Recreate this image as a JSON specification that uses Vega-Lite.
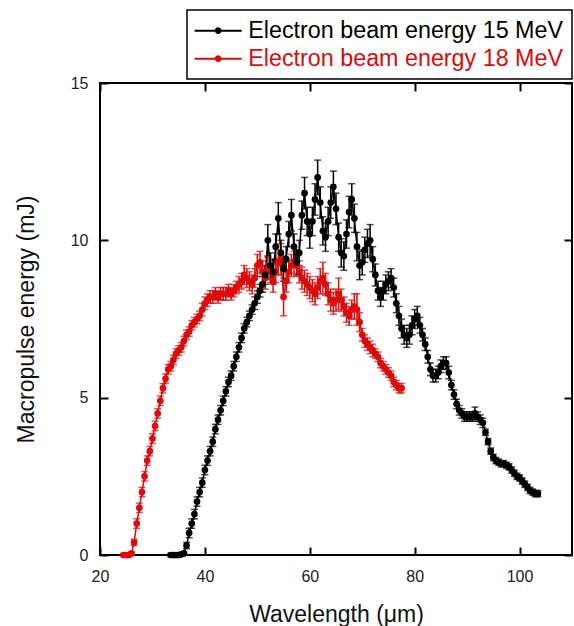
{
  "$schema": "https://vega.github.io/schema/vega-lite/v6.json",
  "width": 472,
  "height": 472,
  "autosize": "none",
  "padding": {"left": 100, "top": 83, "right": 2, "bottom": 71},
  "background": "white",
  "config": {
    "view": {"stroke": "black", "strokeWidth": 2},
    "font": "Liberation Sans"
  },
  "data": {
    "values": [
      {"s": "18", "x": 24.5, "y": 0, "e": 0.05},
      {"s": "18", "x": 25, "y": 0, "e": 0.05},
      {"s": "18", "x": 25.5, "y": 0, "e": 0.05},
      {"s": "18", "x": 26, "y": 0.05, "e": 0.05},
      {"s": "18", "x": 26.5, "y": 0.4, "e": 0.1},
      {"s": "18", "x": 27, "y": 1.0, "e": 0.15},
      {"s": "18", "x": 27.5, "y": 1.5, "e": 0.15},
      {"s": "18", "x": 28, "y": 2.0, "e": 0.15},
      {"s": "18", "x": 28.5, "y": 2.5, "e": 0.15},
      {"s": "18", "x": 29, "y": 3.0, "e": 0.15},
      {"s": "18", "x": 29.5, "y": 3.3, "e": 0.15},
      {"s": "18", "x": 30, "y": 3.7, "e": 0.15},
      {"s": "18", "x": 30.5, "y": 4.1, "e": 0.15},
      {"s": "18", "x": 31, "y": 4.5, "e": 0.15},
      {"s": "18", "x": 31.5, "y": 4.9, "e": 0.15},
      {"s": "18", "x": 32, "y": 5.3, "e": 0.15},
      {"s": "18", "x": 32.5, "y": 5.6, "e": 0.15},
      {"s": "18", "x": 33, "y": 5.9, "e": 0.15},
      {"s": "18", "x": 33.5, "y": 6.0, "e": 0.15},
      {"s": "18", "x": 34, "y": 6.2, "e": 0.15},
      {"s": "18", "x": 34.5, "y": 6.4, "e": 0.15},
      {"s": "18", "x": 35, "y": 6.5, "e": 0.15},
      {"s": "18", "x": 35.5, "y": 6.6, "e": 0.15},
      {"s": "18", "x": 36, "y": 6.8, "e": 0.15},
      {"s": "18", "x": 36.5, "y": 7.0, "e": 0.15},
      {"s": "18", "x": 37, "y": 7.1, "e": 0.15},
      {"s": "18", "x": 37.5, "y": 7.3, "e": 0.15},
      {"s": "18", "x": 38, "y": 7.4, "e": 0.15},
      {"s": "18", "x": 38.5, "y": 7.5, "e": 0.15},
      {"s": "18", "x": 39, "y": 7.6, "e": 0.15},
      {"s": "18", "x": 39.5, "y": 7.8, "e": 0.2},
      {"s": "18", "x": 40, "y": 8.0, "e": 0.2},
      {"s": "18", "x": 40.5, "y": 8.1, "e": 0.2},
      {"s": "18", "x": 41, "y": 8.2, "e": 0.2},
      {"s": "18", "x": 41.5, "y": 8.2, "e": 0.2},
      {"s": "18", "x": 42, "y": 8.3, "e": 0.2},
      {"s": "18", "x": 42.5, "y": 8.2, "e": 0.2},
      {"s": "18", "x": 43, "y": 8.3, "e": 0.2},
      {"s": "18", "x": 43.5, "y": 8.3, "e": 0.2},
      {"s": "18", "x": 44, "y": 8.3, "e": 0.2},
      {"s": "18", "x": 44.5, "y": 8.4, "e": 0.2},
      {"s": "18", "x": 45, "y": 8.3, "e": 0.2},
      {"s": "18", "x": 45.5, "y": 8.4, "e": 0.2},
      {"s": "18", "x": 46, "y": 8.5, "e": 0.2},
      {"s": "18", "x": 46.5, "y": 8.6, "e": 0.25},
      {"s": "18", "x": 47, "y": 8.7, "e": 0.25},
      {"s": "18", "x": 47.5, "y": 8.9, "e": 0.3},
      {"s": "18", "x": 48, "y": 8.8, "e": 0.3},
      {"s": "18", "x": 48.5, "y": 8.7, "e": 0.3},
      {"s": "18", "x": 49, "y": 8.6, "e": 0.3},
      {"s": "18", "x": 49.5, "y": 8.8, "e": 0.3},
      {"s": "18", "x": 50, "y": 9.2, "e": 0.35},
      {"s": "18", "x": 50.5, "y": 9.3, "e": 0.35},
      {"s": "18", "x": 51, "y": 9.0, "e": 0.35},
      {"s": "18", "x": 51.5, "y": 8.8, "e": 0.35},
      {"s": "18", "x": 52, "y": 9.1, "e": 0.35},
      {"s": "18", "x": 52.5, "y": 9.0, "e": 0.35},
      {"s": "18", "x": 53, "y": 8.7, "e": 0.35},
      {"s": "18", "x": 53.5, "y": 9.0, "e": 0.35},
      {"s": "18", "x": 54, "y": 9.3, "e": 0.4},
      {"s": "18", "x": 54.5, "y": 9.4, "e": 0.5},
      {"s": "18", "x": 55, "y": 8.2, "e": 0.6},
      {"s": "18", "x": 55.5, "y": 8.7, "e": 0.35},
      {"s": "18", "x": 56, "y": 9.0, "e": 0.35},
      {"s": "18", "x": 56.5, "y": 9.2, "e": 0.35},
      {"s": "18", "x": 57, "y": 9.3, "e": 0.35},
      {"s": "18", "x": 57.5, "y": 9.2, "e": 0.35},
      {"s": "18", "x": 58, "y": 9.0, "e": 0.35},
      {"s": "18", "x": 58.5, "y": 8.8, "e": 0.35},
      {"s": "18", "x": 59, "y": 8.7, "e": 0.35},
      {"s": "18", "x": 59.5, "y": 8.6, "e": 0.35},
      {"s": "18", "x": 60, "y": 8.5, "e": 0.35},
      {"s": "18", "x": 60.5, "y": 8.4, "e": 0.35},
      {"s": "18", "x": 61, "y": 8.3, "e": 0.35},
      {"s": "18", "x": 61.5, "y": 8.5, "e": 0.35},
      {"s": "18", "x": 62, "y": 8.7, "e": 0.4},
      {"s": "18", "x": 62.5, "y": 8.8, "e": 0.5},
      {"s": "18", "x": 63, "y": 8.6, "e": 0.35},
      {"s": "18", "x": 63.5, "y": 8.3, "e": 0.35},
      {"s": "18", "x": 64, "y": 8.1, "e": 0.35},
      {"s": "18", "x": 64.5, "y": 8.0, "e": 0.35},
      {"s": "18", "x": 65, "y": 8.1, "e": 0.35},
      {"s": "18", "x": 65.5, "y": 8.3, "e": 0.5},
      {"s": "18", "x": 66, "y": 8.1, "e": 0.35},
      {"s": "18", "x": 66.5, "y": 7.9, "e": 0.3},
      {"s": "18", "x": 67, "y": 7.7, "e": 0.3},
      {"s": "18", "x": 67.5, "y": 7.6, "e": 0.3},
      {"s": "18", "x": 68, "y": 7.8, "e": 0.3},
      {"s": "18", "x": 68.5, "y": 7.9, "e": 0.4},
      {"s": "18", "x": 69, "y": 7.8, "e": 0.5},
      {"s": "18", "x": 69.5, "y": 7.4, "e": 0.3},
      {"s": "18", "x": 70, "y": 7.0, "e": 0.2},
      {"s": "18", "x": 70.5, "y": 6.8, "e": 0.2},
      {"s": "18", "x": 71, "y": 6.7, "e": 0.2},
      {"s": "18", "x": 71.5, "y": 6.6, "e": 0.2},
      {"s": "18", "x": 72, "y": 6.5, "e": 0.2},
      {"s": "18", "x": 72.5, "y": 6.4, "e": 0.15},
      {"s": "18", "x": 73, "y": 6.3, "e": 0.15},
      {"s": "18", "x": 73.5, "y": 6.1, "e": 0.15},
      {"s": "18", "x": 74, "y": 6.0, "e": 0.15},
      {"s": "18", "x": 74.5, "y": 5.9, "e": 0.15},
      {"s": "18", "x": 75, "y": 5.8, "e": 0.15},
      {"s": "18", "x": 75.5, "y": 5.7, "e": 0.15},
      {"s": "18", "x": 76, "y": 5.5, "e": 0.15},
      {"s": "18", "x": 76.5, "y": 5.4, "e": 0.15},
      {"s": "18", "x": 77, "y": 5.3, "e": 0.15},
      {"s": "18", "x": 77.5, "y": 5.3, "e": 0.15},
      {"s": "15", "x": 33.5, "y": 0, "e": 0.05},
      {"s": "15", "x": 34, "y": 0, "e": 0.05},
      {"s": "15", "x": 34.5, "y": 0, "e": 0.05},
      {"s": "15", "x": 35, "y": 0, "e": 0.05},
      {"s": "15", "x": 35.5, "y": 0.02, "e": 0.05},
      {"s": "15", "x": 36, "y": 0.05, "e": 0.05},
      {"s": "15", "x": 36.5, "y": 0.3, "e": 0.1},
      {"s": "15", "x": 37, "y": 0.7, "e": 0.15},
      {"s": "15", "x": 37.5, "y": 1.0, "e": 0.15},
      {"s": "15", "x": 38, "y": 1.3, "e": 0.15},
      {"s": "15", "x": 38.5, "y": 1.7, "e": 0.15},
      {"s": "15", "x": 39, "y": 2.0, "e": 0.15},
      {"s": "15", "x": 39.5, "y": 2.3, "e": 0.15},
      {"s": "15", "x": 40, "y": 2.7, "e": 0.15},
      {"s": "15", "x": 40.5, "y": 3.0, "e": 0.15},
      {"s": "15", "x": 41, "y": 3.3, "e": 0.15},
      {"s": "15", "x": 41.5, "y": 3.6, "e": 0.15},
      {"s": "15", "x": 42, "y": 4.0, "e": 0.15},
      {"s": "15", "x": 42.5, "y": 4.3, "e": 0.15},
      {"s": "15", "x": 43, "y": 4.6, "e": 0.15},
      {"s": "15", "x": 43.5, "y": 4.9, "e": 0.15},
      {"s": "15", "x": 44, "y": 5.2, "e": 0.15},
      {"s": "15", "x": 44.5, "y": 5.5, "e": 0.15},
      {"s": "15", "x": 45, "y": 5.7, "e": 0.15},
      {"s": "15", "x": 45.5, "y": 6.0, "e": 0.15},
      {"s": "15", "x": 46, "y": 6.3, "e": 0.15},
      {"s": "15", "x": 46.5, "y": 6.6, "e": 0.15},
      {"s": "15", "x": 47, "y": 6.9, "e": 0.15},
      {"s": "15", "x": 47.5, "y": 7.2, "e": 0.15},
      {"s": "15", "x": 48, "y": 7.4, "e": 0.15},
      {"s": "15", "x": 48.5, "y": 7.6, "e": 0.15},
      {"s": "15", "x": 49, "y": 7.8, "e": 0.15},
      {"s": "15", "x": 49.5, "y": 8.0, "e": 0.2},
      {"s": "15", "x": 50, "y": 8.2, "e": 0.2},
      {"s": "15", "x": 50.5, "y": 8.4, "e": 0.2},
      {"s": "15", "x": 51, "y": 8.6, "e": 0.25},
      {"s": "15", "x": 51.5, "y": 8.9, "e": 0.3},
      {"s": "15", "x": 52, "y": 10.0, "e": 0.5},
      {"s": "15", "x": 52.5, "y": 9.2, "e": 0.4},
      {"s": "15", "x": 53, "y": 9.0, "e": 0.4},
      {"s": "15", "x": 53.5, "y": 9.8, "e": 0.4},
      {"s": "15", "x": 54, "y": 10.7, "e": 0.5},
      {"s": "15", "x": 54.5, "y": 9.6, "e": 0.4},
      {"s": "15", "x": 55, "y": 9.1, "e": 0.4},
      {"s": "15", "x": 55.5, "y": 9.4, "e": 0.4},
      {"s": "15", "x": 56, "y": 10.2, "e": 0.4},
      {"s": "15", "x": 56.5, "y": 10.8, "e": 0.5},
      {"s": "15", "x": 57, "y": 9.8, "e": 0.4},
      {"s": "15", "x": 57.5, "y": 9.3, "e": 0.4},
      {"s": "15", "x": 58, "y": 9.6, "e": 0.4},
      {"s": "15", "x": 58.5, "y": 10.8, "e": 0.45},
      {"s": "15", "x": 59, "y": 11.5, "e": 0.5},
      {"s": "15", "x": 59.5, "y": 10.6, "e": 0.45},
      {"s": "15", "x": 60, "y": 10.2, "e": 0.45},
      {"s": "15", "x": 60.5, "y": 10.6, "e": 0.45},
      {"s": "15", "x": 61, "y": 11.3, "e": 0.5},
      {"s": "15", "x": 61.5, "y": 12.0, "e": 0.55},
      {"s": "15", "x": 62, "y": 11.2, "e": 0.5},
      {"s": "15", "x": 62.5, "y": 10.3, "e": 0.45},
      {"s": "15", "x": 63, "y": 10.1, "e": 0.45},
      {"s": "15", "x": 63.5, "y": 10.6, "e": 0.45},
      {"s": "15", "x": 64, "y": 11.2, "e": 0.5},
      {"s": "15", "x": 64.5, "y": 11.7, "e": 0.5},
      {"s": "15", "x": 65, "y": 11.0, "e": 0.5},
      {"s": "15", "x": 65.5, "y": 10.1, "e": 0.45},
      {"s": "15", "x": 66, "y": 9.6, "e": 0.45},
      {"s": "15", "x": 66.5, "y": 9.5, "e": 0.45},
      {"s": "15", "x": 67, "y": 10.2, "e": 0.45},
      {"s": "15", "x": 67.5, "y": 10.9, "e": 0.5},
      {"s": "15", "x": 68, "y": 11.3, "e": 0.5},
      {"s": "15", "x": 68.5, "y": 10.7, "e": 0.45},
      {"s": "15", "x": 69, "y": 9.8, "e": 0.45},
      {"s": "15", "x": 69.5, "y": 9.2, "e": 0.45},
      {"s": "15", "x": 70, "y": 9.3, "e": 0.4},
      {"s": "15", "x": 70.5, "y": 9.7, "e": 0.4},
      {"s": "15", "x": 71, "y": 9.9, "e": 0.45},
      {"s": "15", "x": 71.5, "y": 10.0, "e": 0.5},
      {"s": "15", "x": 72, "y": 9.4, "e": 0.4},
      {"s": "15", "x": 72.5, "y": 8.9, "e": 0.35},
      {"s": "15", "x": 73, "y": 8.4, "e": 0.3},
      {"s": "15", "x": 73.5, "y": 8.2, "e": 0.3},
      {"s": "15", "x": 74, "y": 8.4, "e": 0.3},
      {"s": "15", "x": 74.5, "y": 8.6, "e": 0.3},
      {"s": "15", "x": 75, "y": 8.7, "e": 0.3},
      {"s": "15", "x": 75.5, "y": 8.8, "e": 0.3},
      {"s": "15", "x": 76, "y": 8.5, "e": 0.3},
      {"s": "15", "x": 76.5, "y": 8.0, "e": 0.3},
      {"s": "15", "x": 77, "y": 7.6, "e": 0.3},
      {"s": "15", "x": 77.5, "y": 7.2, "e": 0.3},
      {"s": "15", "x": 78, "y": 7.0, "e": 0.3},
      {"s": "15", "x": 78.5, "y": 6.9, "e": 0.3},
      {"s": "15", "x": 79, "y": 7.0, "e": 0.3},
      {"s": "15", "x": 79.5, "y": 7.3, "e": 0.3},
      {"s": "15", "x": 80, "y": 7.5, "e": 0.3},
      {"s": "15", "x": 80.5, "y": 7.6, "e": 0.3},
      {"s": "15", "x": 81, "y": 7.3, "e": 0.25},
      {"s": "15", "x": 81.5, "y": 7.0, "e": 0.2},
      {"s": "15", "x": 82, "y": 6.7, "e": 0.2},
      {"s": "15", "x": 82.5, "y": 6.3, "e": 0.2},
      {"s": "15", "x": 83, "y": 5.9, "e": 0.2},
      {"s": "15", "x": 83.5, "y": 5.7, "e": 0.2},
      {"s": "15", "x": 84, "y": 5.7, "e": 0.2},
      {"s": "15", "x": 84.5, "y": 5.8, "e": 0.2},
      {"s": "15", "x": 85, "y": 6.0, "e": 0.2},
      {"s": "15", "x": 85.5, "y": 6.1, "e": 0.2},
      {"s": "15", "x": 86, "y": 6.1, "e": 0.2},
      {"s": "15", "x": 86.5, "y": 5.8, "e": 0.2},
      {"s": "15", "x": 87, "y": 5.4, "e": 0.15},
      {"s": "15", "x": 87.5, "y": 5.1, "e": 0.15},
      {"s": "15", "x": 88, "y": 4.8, "e": 0.15},
      {"s": "15", "x": 88.5, "y": 4.6, "e": 0.15},
      {"s": "15", "x": 89, "y": 4.5, "e": 0.15},
      {"s": "15", "x": 89.5, "y": 4.4, "e": 0.15},
      {"s": "15", "x": 90, "y": 4.4, "e": 0.15},
      {"s": "15", "x": 90.5, "y": 4.4, "e": 0.15},
      {"s": "15", "x": 91, "y": 4.4, "e": 0.15},
      {"s": "15", "x": 91.5, "y": 4.5, "e": 0.2},
      {"s": "15", "x": 92, "y": 4.4, "e": 0.15},
      {"s": "15", "x": 92.5, "y": 4.3, "e": 0.15},
      {"s": "15", "x": 93, "y": 4.2, "e": 0.15},
      {"s": "15", "x": 93.5, "y": 3.9, "e": 0.1},
      {"s": "15", "x": 94, "y": 3.6, "e": 0.1},
      {"s": "15", "x": 94.5, "y": 3.3, "e": 0.1},
      {"s": "15", "x": 95, "y": 3.1, "e": 0.1},
      {"s": "15", "x": 95.5, "y": 3.0, "e": 0.1},
      {"s": "15", "x": 96, "y": 2.95, "e": 0.1},
      {"s": "15", "x": 96.5, "y": 2.9, "e": 0.1},
      {"s": "15", "x": 97, "y": 2.9, "e": 0.1},
      {"s": "15", "x": 97.5, "y": 2.85, "e": 0.1},
      {"s": "15", "x": 98, "y": 2.8, "e": 0.1},
      {"s": "15", "x": 98.5, "y": 2.7, "e": 0.1},
      {"s": "15", "x": 99, "y": 2.6, "e": 0.1},
      {"s": "15", "x": 99.5, "y": 2.5, "e": 0.1},
      {"s": "15", "x": 100, "y": 2.45, "e": 0.1},
      {"s": "15", "x": 100.5, "y": 2.35, "e": 0.1},
      {"s": "15", "x": 101, "y": 2.25, "e": 0.1},
      {"s": "15", "x": 101.5, "y": 2.15, "e": 0.1},
      {"s": "15", "x": 102, "y": 2.05, "e": 0.1},
      {"s": "15", "x": 102.5, "y": 2.0, "e": 0.1},
      {"s": "15", "x": 103, "y": 1.95, "e": 0.1},
      {"s": "15", "x": 103.5, "y": 1.95, "e": 0.1}
    ]
  },
  "resolve": {"axis": {"x": "independent", "y": "independent"}},
  "layer": [
    {
      "mark": {"type": "errorbar", "ticks": {"size": 7, "thickness": 1.5}, "thickness": 1.5},
      "encoding": {
        "x": {
          "field": "x", "type": "quantitative",
          "scale": {"domain": [20, 110], "nice": false, "zero": false},
          "axis": {"orient": "top", "values": [20, 40, 60, 80, 100], "labels": false, "title": null, "domain": false, "grid": false, "tickSize": 8, "offset": -8, "tickWidth": 2, "tickColor": "black"}
        },
        "y": {
          "field": "y", "type": "quantitative",
          "scale": {"domain": [0, 15], "nice": false},
          "axis": {"orient": "right", "values": [0, 5, 10, 15], "labels": false, "title": null, "domain": false, "grid": false, "tickSize": 8, "offset": -8, "tickWidth": 2, "tickColor": "black"}
        },
        "yError": {"field": "e"},
        "color": {"field": "s", "type": "nominal"}
      }
    },
    {
      "mark": {"type": "line", "strokeWidth": 1.5, "point": {"filled": true, "size": 45, "opacity": 1}},
      "encoding": {
        "x": {
          "field": "x", "type": "quantitative",
          "scale": {"domain": [20, 110], "nice": false, "zero": false},
          "axis": {"orient": "bottom", "values": [20, 40, 60, 80, 100], "domain": false, "grid": false, "tickSize": 8, "offset": -8, "tickWidth": 2, "tickColor": "black",
            "labelFontSize": 16, "labelFont": "Liberation Sans", "labelColor": "#222", "labelPadding": 13, "labelFlush": false,
            "title": "Wavelength (μm)", "titleFontSize": 23, "titleFont": "Liberation Sans", "titleFontWeight": "normal", "titleColor": "#111", "titlePadding": 19}
        },
        "y": {
          "field": "y", "type": "quantitative",
          "scale": {"domain": [0, 15], "nice": false},
          "axis": {"orient": "left", "values": [0, 5, 10, 15], "domain": false, "grid": false, "tickSize": 8, "offset": -8, "tickWidth": 2, "tickColor": "black",
            "labelFontSize": 16, "labelFont": "Liberation Sans", "labelColor": "#222", "labelPadding": 12, "labelFlush": false,
            "title": "Macropulse energy (mJ)", "titleFontSize": 23, "titleFont": "Liberation Sans", "titleFontWeight": "normal", "titleColor": "#111", "titlePadding": 32}
        },
        "color": {
          "field": "s", "type": "nominal",
          "scale": {"domain": ["15", "18"], "range": ["#000000", "#dd0a0a"]},
          "legend": {
            "orient": "none", "legendX": 87, "legendY": -73, "direction": "vertical", "title": null,
            "labelExpr": "'Electron beam energy ' + datum.label + ' MeV'",
            "labelFontSize": 23.3, "labelFont": "Liberation Sans", "labelOffset": 29, "labelLimit": 500,
            "strokeColor": "black", "fillColor": "white", "padding": 9, "rowPadding": 4,
            "symbolType": "M-2.6,-0.2H6.8V0.2H-2.6Z M1.44,0A0.66,0.66 0 1,1 2.76,0A0.66,0.66 0 1,1 1.44,0Z",
            "symbolSize": 100, "symbolStrokeWidth": 0,
            "encode": {
              "legend": {"update": {"strokeWidth": {"value": 1.5}}},
              "labels": {"update": {"fill": {"scale": "color", "field": "value"}}},
              "symbols": {"update": {"fill": {"scale": "color", "field": "value"}, "fillOpacity": {"value": 1}, "strokeWidth": {"value": 0}, "stroke": {"value": "transparent"}}}
            }
          }
        }
      }
    }
  ]
}
